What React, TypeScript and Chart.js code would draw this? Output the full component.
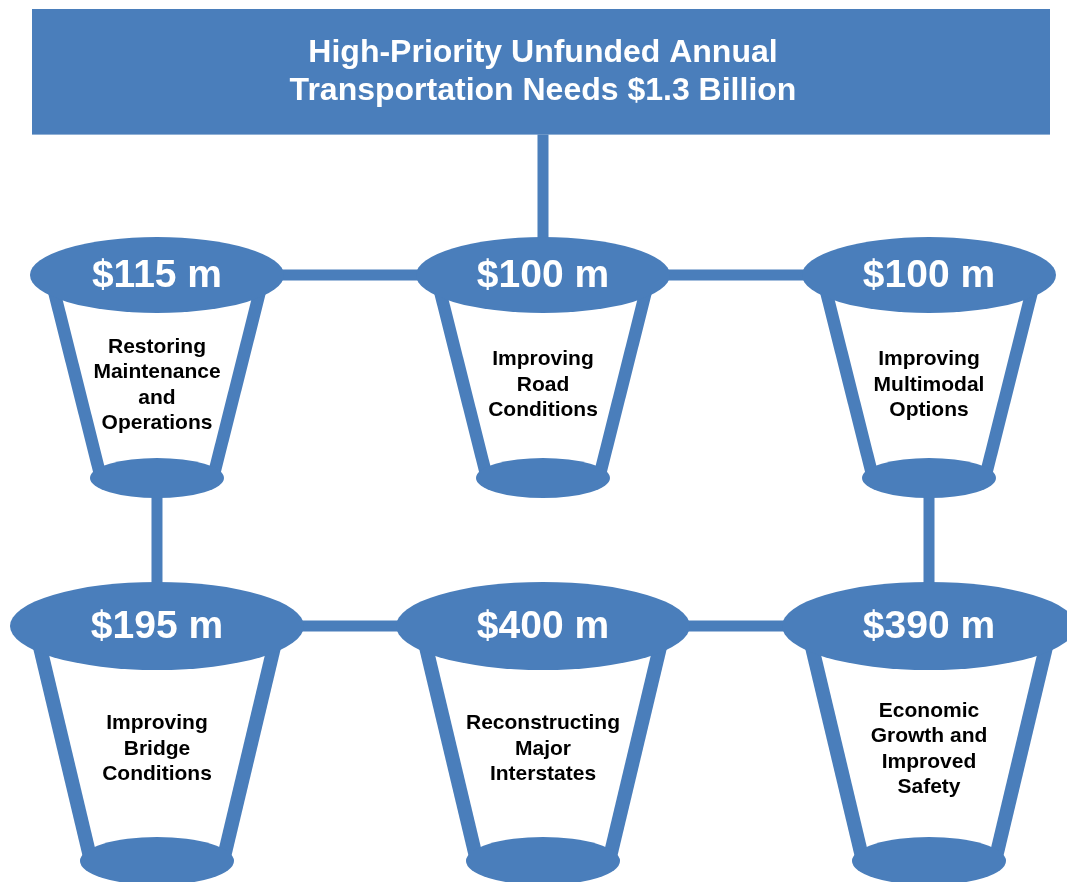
import React, { useEffect, useRef } from "react";
import { Chart, registerables } from "chart.js";

Chart.register(...registerables);

// ---- data ----
const titleLines = ["High-Priority Unfunded Annual", "Transportation Needs $1.3 Billion"];
const amounts = [115, 100, 100, 195, 400, 390];
const categories = [
  ["Restoring", "Maintenance", "and", "Operations"],
  ["Improving", "Road", "Conditions"],
  ["Improving", "Multimodal", "Options"],
  ["Improving", "Bridge", "Conditions"],
  ["Reconstructing", "Major", "Interstates"],
  ["Economic", "Growth and", "Improved", "Safety"],
];
const columns = [0, 1, 2, 0, 1, 2];
const rows = [1, 1, 1, 2, 2, 2];
const linkOrder = [0, 1, 2, 5, 4, 3, 0];
const titleRow = 0.6;

// ---- style ----
const BLUE = "#4a7ebb";
const FONT = '"Liberation Sans", Arial, Helvetica, sans-serif';
const CUP: Record<number, any> = {
  1: { rx: 127, ry: 38, topHalf: 107, botHalf: 56, depth: 203, side: 12.5, brx: 67, bry: 20, textDy: 110 },
  2: { rx: 147, ry: 44, topHalf: 122, botHalf: 66, depth: 235, side: 14, brx: 77, bry: 24, textDy: 123 },
};

const cupPlugin = {
  id: "cups",
  afterDatasetsDraw(chart: any) {
    const ctx = chart.ctx as CanvasRenderingContext2D;
    const meta = chart.getDatasetMeta(2);
    ctx.save();
    meta.data.forEach((pt: any, i: number) => {
      const x = pt.x;
      const y = pt.y;
      const g = CUP[rows[i]];
      // interior
      ctx.fillStyle = "#ffffff";
      ctx.beginPath();
      ctx.moveTo(x - g.topHalf, y);
      ctx.lineTo(x + g.topHalf, y);
      ctx.lineTo(x + g.botHalf, y + g.depth);
      ctx.lineTo(x - g.botHalf, y + g.depth);
      ctx.closePath();
      ctx.fill();
      // sides
      ctx.strokeStyle = BLUE;
      ctx.lineWidth = g.side;
      ctx.lineCap = "butt";
      for (const s of [-1, 1]) {
        ctx.beginPath();
        ctx.moveTo(x + s * g.topHalf, y);
        ctx.lineTo(x + s * g.botHalf, y + g.depth);
        ctx.stroke();
      }
      ctx.fillStyle = BLUE;
      ctx.beginPath();
      ctx.ellipse(x, y + g.depth, g.brx, g.bry, 0, 0, Math.PI * 2);
      ctx.fill();
      ctx.beginPath();
      ctx.ellipse(x, y, g.rx, g.ry, 0, 0, Math.PI * 2);
      ctx.fill();
      // amount
      ctx.fillStyle = "#ffffff";
      ctx.font = `bold 39px ${FONT}`;
      ctx.textAlign = "center";
      ctx.textBaseline = "middle";
      ctx.fillText(`$${amounts[i]} m`, x, y + 1);
      // label
      ctx.fillStyle = "#000000";
      ctx.font = `bold 21px ${FONT}`;
      const lines = categories[i];
      const lh = 25.5;
      const start = y + g.textDy - ((lines.length - 1) * lh) / 2;
      lines.forEach((t, k) => ctx.fillText(t, x, start + k * lh));
    });
    // title box
    const cx = chart.scales.x.getPixelForValue(1);
    const ty = chart.scales.y.getPixelForValue(titleRow);
    ctx.fillStyle = BLUE;
    ctx.fillRect(32, 9, 1018, ty - 9);
    ctx.fillStyle = "#ffffff";
    ctx.font = `bold 32px ${FONT}`;
    ctx.textAlign = "center";
    ctx.textBaseline = "middle";
    ctx.fillText(titleLines[0], cx, 53);
    ctx.fillText(titleLines[1], cx, 91);
    ctx.restore();
  },
};

export default function App() {
  const ref = useRef<HTMLCanvasElement | null>(null);
  useEffect(() => {
    if (!ref.current) return;
    const cupPoints = columns.map((c, i) => ({ x: c, y: rows[i] }));
    const loop = linkOrder.map((i) => ({ x: columns[i], y: rows[i] }));
    const chart = new Chart(ref.current, {
      type: "scatter",
      data: {
        datasets: [
          {
            label: "links",
            data: loop,
            showLine: true,
            borderColor: BLUE,
            borderWidth: 11,
            pointRadius: 0,
            borderJoinStyle: "miter",
            clip: false,
          } as any,
          {
            label: "title link",
            data: [
              { x: 1, y: titleRow },
              { x: 1, y: 1 },
            ],
            showLine: true,
            borderColor: BLUE,
            borderWidth: 11,
            pointRadius: 0,
            clip: false,
          } as any,
          {
            label: "cups",
            data: cupPoints,
            pointRadius: 0,
            showLine: false,
            clip: false,
          } as any,
        ],
      },
      options: {
        animation: false,
        responsive: true,
        maintainAspectRatio: false,
        events: [],
        layout: { padding: 0 },
        plugins: { legend: { display: false }, tooltip: { enabled: false }, title: { display: false } },
        scales: {
          x: { type: "linear", display: false, min: -0.4067, max: 2.3575 },
          y: { type: "linear", display: false, reverse: true, min: 0.2165, max: 2.7293 },
        },
      },
      plugins: [cupPlugin],
    });
    return () => chart.destroy();
  }, []);
  return (
    <div style={{ position: "absolute", left: 0, top: 0, width: 1067, height: 882, background: "#fff" }}>
      <canvas ref={ref} />
    </div>
  );
}
